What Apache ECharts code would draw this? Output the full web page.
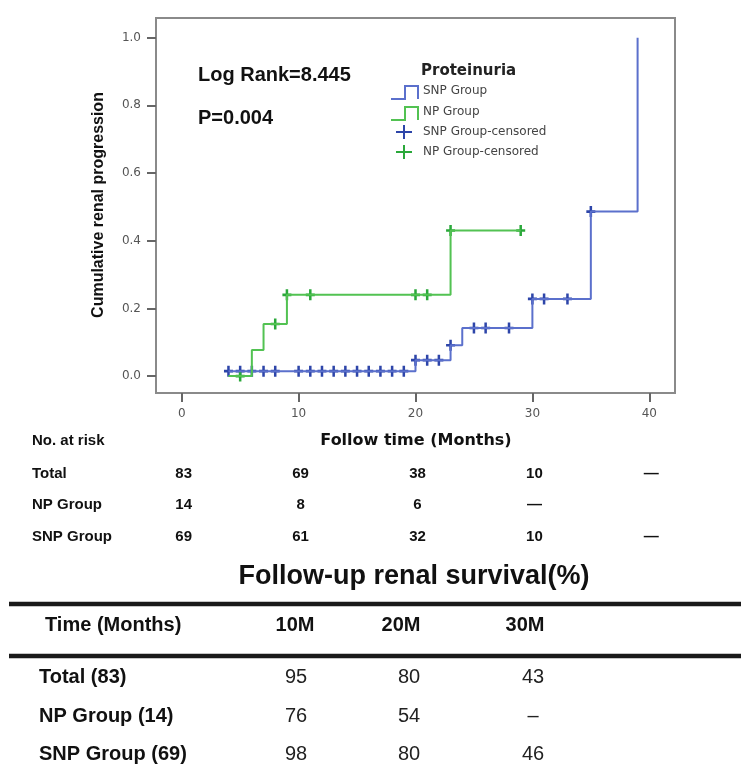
<!DOCTYPE html>
<html>
<head>
<meta charset="utf-8">
<title>Cumulative renal progression</title>
<script src="https://cdn.jsdelivr.net/npm/echarts@6/dist/echarts.min.js"></script>
<style>
  html, body { margin: 0; padding: 0; background: #fff; }
  #main { width: 741px; height: 774px; }
</style>
</head>
<body>
<div id="main"></div>
<script>
  // step points of the curves: [month, cumulative progression]
  var snpSteps = [[4, 0.0145], [20, 0.047], [23, 0.091], [24, 0.142], [30, 0.228], [35, 0.486], [39, 1.0]];
  var npSteps = [[4, 0], [6, 0.077], [7, 0.154], [9, 0.24], [23, 0.43], [29, 0.43]];
  // censored marks
  var snpCensored = [[4, 0.0145], [5, 0.0145], [6, 0.0145], [7, 0.0145], [8, 0.0145], [10, 0.0145],
    [11, 0.0145], [12, 0.0145], [13, 0.0145], [14, 0.0145], [15, 0.0145], [16, 0.0145], [17, 0.0145],
    [18, 0.0145], [19, 0.0145], [20, 0.047], [21, 0.047], [22, 0.047], [23, 0.091], [25, 0.142],
    [26, 0.142], [28, 0.142], [30, 0.228], [31, 0.228], [33, 0.228], [35, 0.486]];
  var npCensored = [[5, 0], [8, 0.154], [9, 0.24], [11, 0.24], [20, 0.24], [21, 0.24], [23, 0.43], [29, 0.43]];

  var xTicks = [0, 10, 20, 30, 40];
  var yTicks = [0, 0.2, 0.4, 0.6, 0.8, 1.0];

  // number at risk table
  var riskTimes = [0, 10, 20, 30, 40];
  var riskTotal = ['83', '69', '38', '10', '—'];
  var riskNP = ['14', '8', '6', '—'];
  var riskSNP = ['69', '61', '32', '10', '—'];

  // follow-up renal survival table
  var survCols = ['10M', '20M', '30M'];
  var survTotal = ['95', '80', '43'];
  var survNP = ['76', '54', '–'];
  var survSNP = ['98', '80', '46'];

  var blueLine = '#5b70cc';
  var blueMark = '#2d45a9';
  var greenLine = '#52c252';
  var greenMark = '#2aa83a';
  var axisGray = '#8a8a8a';

  var arial = "'Liberation Sans', Arial, sans-serif";
  var dejavu = "'DejaVu Sans', Verdana, sans-serif";
  var plus = 'path://M3.6,0 H6.4 V3.8 H10 V6.2 H6.4 V10 H3.6 V6.2 H0 V3.8 H3.6 Z';

  var myChart = echarts.init(document.getElementById('main'));

  myChart.setOption({
    animation: false,
    backgroundColor: '#fff',
    grid: {
      left: 156,
      top: 18,
      width: 519,
      height: 375,
      show: true,
      borderColor: axisGray,
      borderWidth: 2
    },
    xAxis: {
      type: 'value',
      min: -2.2,
      max: 42.2,
      splitLine: { show: false },
      axisLine: { onZero: false, lineStyle: { color: axisGray, width: 2 } },
      axisTick: { show: true, inside: false, length: 9, lineStyle: { color: '#666', width: 2 }, customValues: xTicks },
      axisLabel: {
        customValues: xTicks,
        margin: 15,
        color: '#555',
        fontFamily: dejavu,
        fontSize: 12
      }
    },
    yAxis: {
      type: 'value',
      min: -0.05,
      max: 1.058,
      splitLine: { show: false },
      axisLine: { onZero: false, lineStyle: { color: axisGray, width: 2 } },
      axisTick: { show: true, inside: false, length: 9, lineStyle: { color: '#666', width: 2 }, customValues: yTicks },
      axisLabel: {
        customValues: yTicks,
        margin: 15,
        color: '#555',
        fontFamily: dejavu,
        fontSize: 12,
        formatter: function (v) { return v.toFixed(1); }
      }
    },
    series: [
      {
        name: 'SNP Group',
        type: 'line',
        step: 'end',
        data: snpSteps,
        showSymbol: false,
        lineStyle: { color: blueLine, width: 2 }
      },
      {
        name: 'NP Group',
        type: 'line',
        step: 'end',
        data: npSteps,
        showSymbol: false,
        lineStyle: { color: greenLine, width: 2 }
      },
      {
        name: 'SNP Group-censored',
        type: 'scatter',
        data: snpCensored,
        symbol: plus,
        symbolSize: [9, 11],
        itemStyle: { color: blueMark, opacity: 1 }
      },
      {
        name: 'NP Group-censored',
        type: 'scatter',
        data: npCensored,
        symbol: plus,
        symbolSize: [9, 11],
        itemStyle: { color: greenMark, opacity: 1 }
      }
    ]
  });

  function txt (text, x, y, font, align, color) {
    return {
      type: 'text',
      x: x,
      y: y,
      silent: true,
      style: {
        text: text,
        font: font,
        fill: color || '#111',
        align: align || 'left',
        verticalAlign: 'middle',
        textAlign: align || 'left',
        textVerticalAlign: 'middle'
      }
    };
  }
  function seg (x1, y1, x2, y2, color, w) {
    return {
      type: 'line',
      silent: true,
      shape: { x1: x1, y1: y1, x2: x2, y2: y2 },
      style: { stroke: color, lineWidth: w }
    };
  }

  var g = [];
  // annotations
  g.push(txt('Log Rank=8.445', 198, 75, 'bold 20px ' + arial));
  g.push(txt('P=0.004', 198, 118, 'bold 20px ' + arial));

  // legend
  g.push(txt('Proteinuria', 421, 71, 'bold 15px ' + dejavu, 'left', '#222'));
  g.push({ type: 'polyline', silent: true, shape: { points: [[391, 99], [405, 99], [405, 86], [418, 86], [418, 99]] },
    style: { stroke: blueLine, lineWidth: 2, fill: null } });
  g.push({ type: 'polyline', silent: true, shape: { points: [[391, 120], [405, 120], [405, 107], [418, 107], [418, 120]] },
    style: { stroke: greenLine, lineWidth: 2, fill: null } });
  g.push(seg(396, 132, 412, 132, blueMark, 2));
  g.push(seg(404, 125, 404, 139, blueMark, 2));
  g.push(seg(396, 152, 412, 152, greenMark, 2));
  g.push(seg(404, 145, 404, 159, greenMark, 2));
  g.push(txt('SNP Group', 423, 91, '12px ' + dejavu, 'left', '#444'));
  g.push(txt('NP Group', 423, 112, '12px ' + dejavu, 'left', '#444'));
  g.push(txt('SNP Group-censored', 423, 132, '12px ' + dejavu, 'left', '#444'));
  g.push(txt('NP Group-censored', 423, 152, '12px ' + dejavu, 'left', '#444'));

  // axis titles
  var yTitle = txt('Cumulative renal progression', 99, 205, 'bold 16px ' + arial, 'center');
  yTitle.rotation = Math.PI / 2;
  g.push(yTitle);
  g.push(txt('Follow time (Months)', 416, 441, 'bold 16px ' + dejavu, 'center'));

  // number at risk
  var riskFont = 'bold 15px ' + arial;
  g.push(txt('No. at risk', 32, 441, riskFont));
  var rows = [['Total', riskTotal, 474], ['NP Group', riskNP, 505], ['SNP Group', riskSNP, 537]];
  rows.forEach(function (r) {
    g.push(txt(r[0], 32, r[2], riskFont));
    r[1].forEach(function (v, i) {
      var px = myChart.convertToPixel({ xAxisIndex: 0 }, riskTimes[i]) + 2;
      g.push(txt(v, px, r[2], riskFont, 'center'));
    });
  });

  // survival table
  g.push(txt('Follow-up renal survival(%)', 414, 577, 'bold 27px ' + arial, 'center'));
  g.push(seg(9, 604, 741, 604, '#1a1a1a', 4.5));
  g.push(seg(9, 656, 741, 656, '#1a1a1a', 4.5));
  var headX = [295, 401, 525];
  var valX = [296, 409, 533];
  g.push(txt('Time (Months)', 45, 625, 'bold 20px ' + arial));
  survCols.forEach(function (c, i) {
    g.push(txt(c, headX[i], 625, 'bold 20px ' + arial, 'center'));
  });
  var srows = [['Total (83)', survTotal, 677], ['NP Group (14)', survNP, 716], ['SNP Group (69)', survSNP, 754]];
  srows.forEach(function (r) {
    g.push(txt(r[0], 39, r[2], 'bold 20px ' + arial));
    r[1].forEach(function (v, i) {
      g.push(txt(v, valX[i], r[2], '20px ' + arial, 'center', '#222'));
    });
  });

  myChart.setOption({ graphic: { elements: g } });
</script>
</body>
</html>
